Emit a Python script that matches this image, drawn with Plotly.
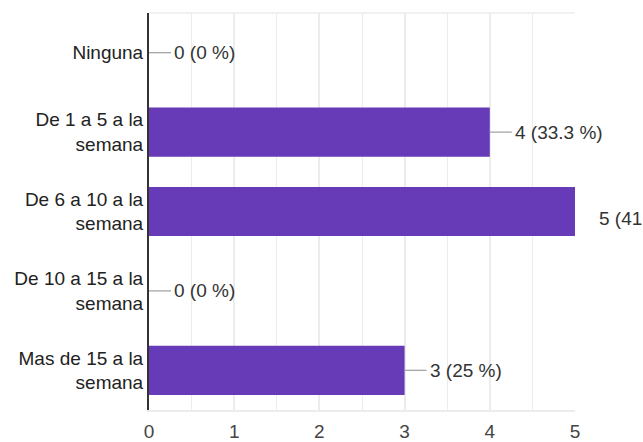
import plotly.graph_objects as go

# Survey responses: how many times per week
categories = [
    "Ninguna",
    "De 1 a 5 a la<br>semana",
    "De 6 a 10 a la<br>semana",
    "De 10 a 15 a la<br>semana",
    "Mas de 15 a la<br>semana",
]
counts = [0, 4, 5, 0, 3]
x_ticks = [0, 1, 2, 3, 4, 5]

total = sum(counts)


def pct_text(v):
    p = round(100 * v / total, 1)
    s = f"{p:.1f}".rstrip("0").rstrip(".")
    return f"{v} ({s} %)"


FONT = "Arial, Liberation Sans, sans-serif"
BAR = "#673ab7"
GRID = "#ececec"

fig = go.Figure(
    go.Bar(
        x=counts,
        y=categories,
        orientation="h",
        marker=dict(color=BAR, line=dict(width=0)),
        hoverinfo="skip",
    )
)

shapes = []
annotations = []
for i, (cat, v) in enumerate(zip(categories, counts)):
    overflow = v >= x_ticks[-1]
    lead = 6 if overflow else 22
    shapes.append(
        dict(
            type="line", xref="x", yref="y",
            xsizemode="pixel", xanchor=v, x0=0, x1=lead,
            y0=i, y1=i,
            line=dict(color="#9e9e9e", width=1.2),
        )
    )
    annotations.append(
        dict(
            x=v, y=cat, xref="x", yref="y",
            text=pct_text(v), showarrow=False,
            xanchor="left", xshift=22 if overflow else lead + 1,
            yshift=-7 if overflow else 0,
            font=dict(family=FONT, size=19, color="#333333"),
        )
    )

# light frame along the top of the plot area
shapes.append(
    dict(type="line", xref="paper", yref="paper", x0=0, x1=1, y0=1, y1=1,
         line=dict(color=GRID, width=1.5), layer="below")
)

fig.update_layout(
    template="none",
    width=643,
    height=442,
    margin=dict(l=149, r=68, t=13, b=32),
    paper_bgcolor="white",
    plot_bgcolor="white",
    bargap=0.38,
    showlegend=False,
    shapes=shapes,
    annotations=annotations,
    font=dict(family=FONT, size=19, color="#222222"),
    xaxis=dict(
        automargin=False,
        range=[0, 5],
        tickvals=x_ticks,
        ticktext=[str(t) for t in x_ticks],
        showgrid=True,
        gridcolor=GRID,
        gridwidth=1.5,
        minor=dict(dtick=0.5, showgrid=True, gridcolor=GRID, gridwidth=1),
        zeroline=False,
        showline=True,
        linecolor=GRID,
        linewidth=1.5,
        ticks="outside",
        ticklen=3,
        tickcolor="rgba(0,0,0,0)",
        tickfont=dict(family=FONT, size=19, color="#444444"),
        fixedrange=True,
    ),
    yaxis=dict(
        automargin=False,
        categoryorder="array",
        categoryarray=categories,
        range=[4.5, -0.5],
        showgrid=False,
        zeroline=False,
        showline=True,
        linecolor="#333333",
        linewidth=2,
        ticks="",
        tickfont=dict(family=FONT, size=19, color="#222222"),
        fixedrange=True,
    ),
)

fig.write_html("out.html")
